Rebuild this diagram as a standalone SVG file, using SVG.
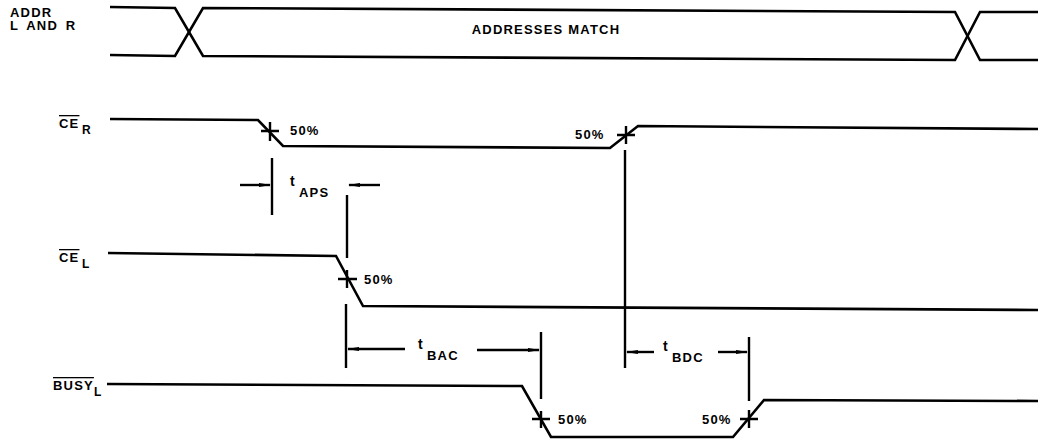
<svg xmlns="http://www.w3.org/2000/svg" width="1038" height="446" viewBox="0 0 1038 446">
<defs>
<marker id="ah" markerWidth="12" markerHeight="6" refX="11" refY="3" orient="auto" markerUnits="userSpaceOnUse">
<path d="M0,1 L12,3 L0,5 Z" fill="#000"/>
</marker>
<style>
.sig{fill:none;stroke:#000;stroke-width:2.6;stroke-linejoin:miter}
.tk{fill:none;stroke:#000;stroke-width:2.4}
.dim{fill:none;stroke:#000;stroke-width:2.4;marker-end:url(#ah)}
text{font-family:"Liberation Sans",Arial,sans-serif;font-weight:bold;fill:#000;letter-spacing:1.2px}
.lbl{font-size:13px}
.sub{font-size:12px}
.t{font-size:14px;letter-spacing:0}
</style>
</defs>
<rect width="1038" height="446" fill="#fff"/>

<g id="addr">
<text class="lbl" x="10" y="17">ADDR</text>
<text class="lbl" x="10" y="30" style="word-spacing:3px">L AND R</text>
<path class="sig" d="M110,7 L175,8 L203,56 L955,60 L980,12 L1038,12"/>
<path class="sig" d="M110,55 L175,56 L203,8 L955,12 L980,60 L1038,60"/>
<text class="lbl" x="546" y="34" text-anchor="middle">ADDRESSES MATCH</text>
</g>

<g id="ce_r">
<text class="lbl" x="59" y="128"><tspan text-decoration="overline">CE</tspan></text>
<text class="sub" x="82" y="134">R</text>
<path class="sig" d="M110,119 L258,120 L283,146 L610,148 L638,126 L1038,129"/>
<path class="tk" d="M261,131 H279 M270,122 V141"/>
<text class="lbl" x="290" y="135">50%</text>
<path class="tk" d="M617,135 H635 M626,126 V144"/>
<text class="lbl" x="575" y="139">50%</text>
</g>

<g id="ce_l">
<text class="lbl" x="59" y="262"><tspan text-decoration="overline">CE</tspan></text>
<text class="sub" x="82" y="268">L</text>
<path class="sig" d="M108,253 L336,256 L363,306 L1038,310"/>
<path class="tk" d="M338,279 H357 M347,270 V288"/>
<text class="lbl" x="364" y="284">50%</text>
</g>

<g id="busy_l">
<text class="lbl" x="53" y="390"><tspan text-decoration="overline">BUSY</tspan></text>
<text class="sub" x="94" y="396">L</text>
<path class="sig" d="M107,384 L522,386 L551,437 L733,437 L764,400 L1038,401"/>
<path class="tk" d="M532,419 H550 M541,411 V428"/>
<text class="lbl" x="558" y="424">50%</text>
<path class="tk" d="M740,419 H758 M749,410 V428"/>
<text class="lbl" x="702" y="424">50%</text>
</g>

<g id="connectors">
<!-- tAPS -->
<path class="tk" d="M272,158 V215"/>
<path class="tk" d="M347,195 V258"/>
<path class="dim" d="M240,185 H270"/>
<path class="dim" d="M380,185 H349"/>
<text class="t" x="290" y="186">t</text>
<text class="lbl" x="299" y="197">APS</text>
<!-- tBAC -->
<path class="tk" d="M346,304 V368"/>
<path class="dim" d="M405,349 H348"/>
<path class="dim" d="M477,350 H539"/>
<text class="t" x="418" y="349">t</text>
<text class="lbl" x="427" y="360">BAC</text>
<path class="tk" d="M541,332 V399"/>
<!-- tBDC -->
<path class="tk" d="M625,150 V368"/>
<path class="dim" d="M654,352 H627"/>
<path class="dim" d="M718,352 H747"/>
<text class="t" x="663" y="351">t</text>
<text class="lbl" x="672" y="362">BDC</text>
<path class="tk" d="M749,337 V401"/>
</g>
</svg>
